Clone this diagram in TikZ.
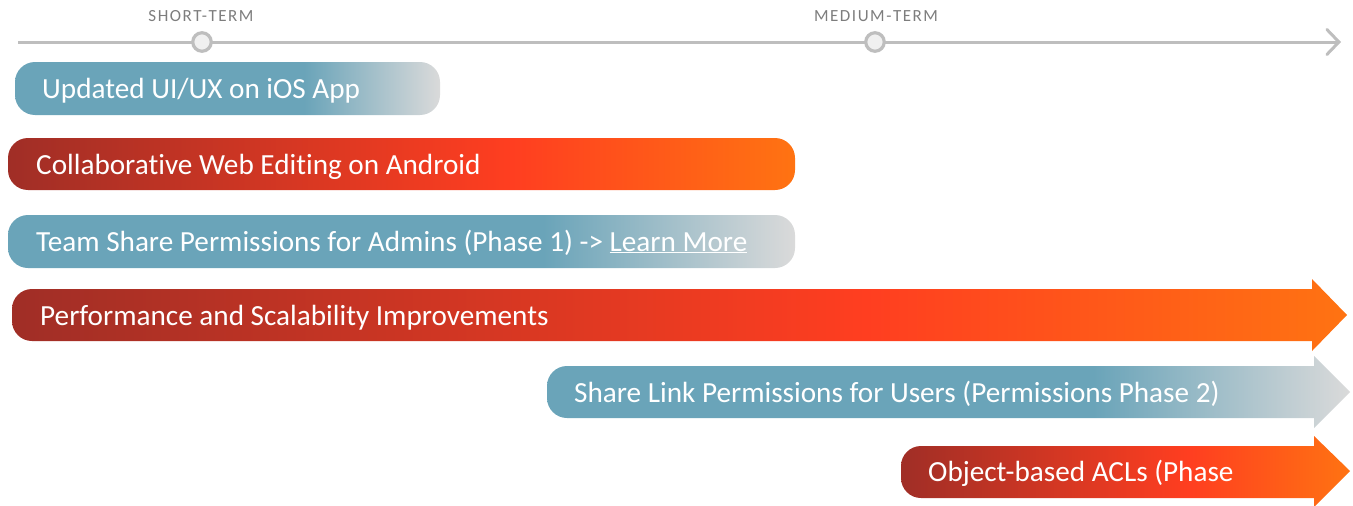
\documentclass[tikz,border=0pt]{standalone}
\usepackage{fontspec}
\setmainfont[Ligatures={NoCommon}]{Carlito}
\usetikzlibrary{arrows.meta}
\definecolor{tblue}{RGB}{106,164,185}
\definecolor{tgray}{RGB}{218,218,218}
\definecolor{dred}{RGB}{160,46,38}
\definecolor{bred}{RGB}{255,62,32}
\definecolor{orng}{RGB}{255,115,18}
\definecolor{tline}{RGB}{190,190,190}
\definecolor{tlabel}{RGB}{125,125,125}
\pgfdeclarehorizontalshading{blueshade}{100bp}{color(0bp)=(tblue); color(25bp)=(tblue); color(59bp)=(tblue); color(75bp)=(tgray); color(100bp)=(tgray)}
\pgfdeclarehorizontalshading{redshade}{100bp}{color(0bp)=(dred); color(25bp)=(dred); color(57bp)=(bred); color(75bp)=(orng); color(100bp)=(orng)}
\tikzset{
  bartext/.style={anchor=base west, inner sep=0pt, text=white, font=\fontsize{29.2}{33}\selectfont},
  tllabel/.style={anchor=base, inner sep=0pt, text=tlabel, font=\fontsize{17}{20}\selectfont\addfontfeature{LetterSpace=9}},
  tlcirc/.style={circle, draw=tline, line width=3.2pt, fill=white!94!black, minimum size=18.5pt, inner sep=0pt},
  bluebar/.style={shading=blueshade},
  redbar/.style={shading=redshade},
}
\begin{document}
\begin{tikzpicture}[x=1pt,y=-1pt]
\useasboundingbox (0,0) rectangle (1353,506);
% timeline
\coordinate (tl0) at (18,42);
\coordinate (tl1) at (1341,42);
\draw[tline, line width=3pt, -{Straight Barb[length=12pt,width=25pt,line cap=round]}] (tl0) -- (tl1);
\node[tlcirc] (c1) at (202,42) {};
\node[tlcirc] (c2) at (875,42) {};
\node[tllabel] (st) at (201,21) {SHORT-TERM};
\node[tllabel] (mt) at (876,21) {MEDIUM-TERM};
% bar 1
\shade[bluebar, rounded corners=20pt] (15,62) rectangle (440,115);
\node[bartext] (b1) at (42,98) {Updated UI/UX on iOS App};
% bar 2
\shade[redbar, rounded corners=20pt] (8,138) rectangle (795,190);
\node[bartext] (b2) at (36,174) {Collaborative Web Editing on Android};
% bar 3
\shade[bluebar, rounded corners=20pt] (8,215) rectangle (795,268);
\node[bartext] (b3) at (36,251) {Team Share Permissions for Admins (Phase 1) -> \underline{Learn More}};
% bar 4 arrow
\shade[redbar] (1312,289) [rounded corners=20pt] -- (12,289) -- (12,341) [sharp corners] -- (1312,341) -- (1312,351) -- (1347,315) -- (1312,279) -- cycle;
\node[bartext] (b4) at (40,325) {Performance and Scalability Improvements};
% bar 5 arrow
\shade[bluebar] (1314,366) [rounded corners=20pt] -- (547,366) -- (547,418) [sharp corners] -- (1314,418) -- (1314,428) -- (1350,392) -- (1314,356) -- cycle;
\node[bartext] (b5) at (574,402) {Share Link Permissions for Users (Permissions Phase 2)};
% bar 6 arrow
\shade[redbar] (1314,446) [rounded corners=20pt] -- (901,446) -- (901,498) [sharp corners] -- (1314,498) -- (1314,507) -- (1350,471) -- (1314,436) -- cycle;
\node[bartext] (b6) at (928,481) {Object-based ACLs (Phase};
\end{tikzpicture}
\end{document}
